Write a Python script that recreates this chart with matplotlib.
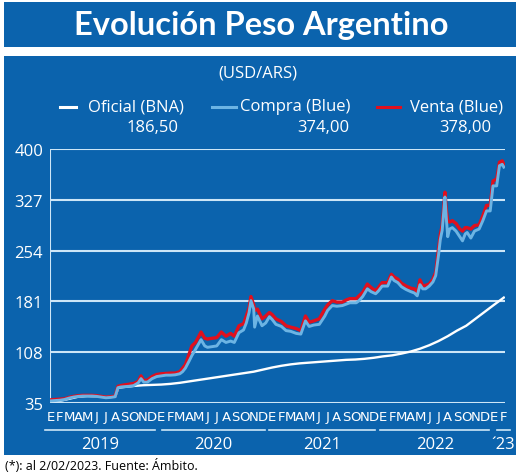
import matplotlib
matplotlib.use("Agg")
import matplotlib.pyplot as plt
from matplotlib.patches import Rectangle
from matplotlib.lines import Line2D

# month index: 0 = start of Jan 2019
months = ["E", "F", "M", "A", "M", "J", "J", "A", "S", "O", "N", "D"] * 4 + ["E", "F"]
years = ["2019", "2020", "2021", "2022", "´23"]
year_spans = [(-0.6, 11.3), (12.1, 23.2), (23.7, 35.1), (35.7, 47.5), (48.3, 49.7)]

t_blue = [0.0, 0.5, 1.0, 1.5, 2.0, 2.5, 3.0, 3.5, 4.0, 4.5, 5.0, 5.5, 6.0, 6.5, 7.0,
          7.3, 7.6, 8.0, 8.5, 9.0, 9.5, 9.8, 10.1, 10.5, 11.0, 11.5, 12.0, 12.5, 13.0,
          13.5, 14.0, 14.3, 14.6, 15.0, 15.3, 15.7, 16.3, 16.7, 17.0, 17.5, 18.0, 18.5,
          19.0, 19.5, 19.9, 20.4, 20.9, 21.2, 21.5, 21.7, 22.0, 22.1, 22.4, 22.9, 23.3,
          23.7, 24.0, 24.4, 25.0, 25.5, 26.0, 26.6, 27.1, 27.6, 28.0, 28.5, 29.1, 29.7,
          30.0, 30.5, 31.0, 31.6, 32.0, 32.4, 33.1, 33.4, 33.8, 34.3, 34.7, 35.2, 35.5,
          35.9, 36.5, 36.9, 37.2, 37.6, 38.0, 38.5, 39.0, 39.4, 39.7, 40.0, 40.3, 40.6,
          41.0, 41.4, 41.7, 42.0, 42.2, 42.4, 42.6, 42.7, 42.85, 43.0, 43.2, 43.5, 43.9,
          44.3, 44.6, 44.9, 45.1, 45.5, 45.9, 46.4, 46.8, 47.2, 47.6, 47.9, 48.3, 48.6,
          48.9, 49.07]
compra = [38, 38.5, 39, 40, 42, 43.5, 44.5, 45, 45, 45, 44.5, 43.5, 42.5, 43, 44,
          57, 58, 58.5, 59, 60, 64, 70, 65, 65, 70, 73, 74, 75, 75,
          75.5, 77, 80, 85, 95, 103, 112, 126, 117, 115, 116, 117, 126,
          122, 124, 122, 136, 140, 150, 165, 182, 170, 144, 160, 146, 150,
          159, 155, 148, 145, 139, 138, 135, 134, 153, 145, 147, 148, 160,
          168, 175, 174, 175, 177, 179, 179, 182, 188, 199, 195, 192, 196,
          203, 203, 216, 211, 208, 202, 198, 195, 193, 189, 205, 199, 199,
          203, 209, 218, 247, 270, 283, 315, 331, 300, 274, 285, 287, 282,
          274, 268, 278, 280, 272, 282, 285, 297, 311, 311, 347, 347, 376,
          378, 374]
venta = [39.5, 40, 40.5, 41, 43, 44.5, 45.5, 46, 46, 46, 45.5, 44.5, 43.5, 44, 45,
         59, 60, 61, 62, 63, 66, 74, 67, 68, 73, 76, 77, 77.5, 78,
         78, 80, 85, 90, 105, 117, 122, 137, 128, 127, 128, 129, 137,
         131, 135, 131, 146, 149, 160, 172, 188, 176, 168, 170, 156, 160,
         165, 162, 156, 152, 146, 144, 142, 139, 160, 151, 153, 156, 170,
         176, 182, 180, 180, 183, 185, 185, 189, 194, 206, 201, 196, 201,
         208, 208, 220, 216, 213, 207, 203, 200, 199, 194, 212, 203, 204,
         206, 213, 223, 256, 278, 290, 322, 338, 312, 297, 295, 297, 293,
         285, 282, 287, 287, 285, 290, 291, 304, 319, 319, 354, 357, 381,
         383, 378]

t_ofi = [0, 1, 2, 3, 4, 5, 6, 7, 7.35, 8, 9, 10, 11, 12, 13, 14, 15, 16, 17, 18, 19,
         20, 21, 22, 23, 24, 25, 26, 27, 28, 29, 30, 31, 32, 33, 34, 35, 36, 37, 38,
         39, 40, 41, 42, 43, 44, 45, 46, 47, 48, 49.07]
oficial = [37.5, 38, 41, 44, 45, 44.5, 43.5, 44, 57, 58, 59.5, 60.5, 61, 61.5, 62.5,
           64, 66, 68, 70, 72, 74, 76, 78, 80, 83, 86, 88.5, 90.5, 92, 93, 94, 95,
           96, 97, 97.5, 98.5, 100, 102, 103.5, 106, 109, 113, 118, 124, 131, 139,
           146, 156, 166, 176, 186.5]

y_ticks = [35, 108, 181, 254, 327, 400]
legend_names = ["Oficial (BNA)", "Compra (Blue)", "Venta (Blue)"]
legend_values = ["186,50", "374,00", "378,00"]

BG = "#0b63ad"
LIGHT = "#6cb4e4"
RED = "#e0101e"
GRID = "#cde6f7"
W, H = 520, 477

fig = plt.figure(figsize=(W / 100, H / 100), dpi=100)
fig.patch.set_facecolor("white")

def px(x, y):
    # pixel (top-left origin) -> figure fraction
    return x / W, 1 - y / H

# title bar and main panel
fig.patches.append(Rectangle(px(4, 48), 512 / W, 45 / H, transform=fig.transFigure,
                             facecolor=BG, edgecolor="none", zorder=0))
fig.patches.append(Rectangle(px(4, 456), 512 / W, 399 / H, transform=fig.transFigure,
                             facecolor=BG, edgecolor="none", zorder=0))
fig.text(*px(261, 26), "Evolución Peso Argentino", color="white", fontsize=23.5,
         family="Lato", fontweight="bold", ha="center", va="center")
fig.text(*px(258, 74), "(USD/ARS)", color="white", fontsize=12, family="Open Sans",
         ha="center", va="center")

# legend
leg_x = [(60, 76, 88), (212, 236, 240), (377, 400, 410)]
leg_col = ["white", LIGHT, RED]
val_x = [153, 323, 465]
for (x0, x1, xt), c, name, val, xv in zip(leg_x, leg_col, legend_names, legend_values, val_x):
    fig.lines.append(Line2D([x0 / W, x1 / W], [1 - 108 / H] * 2, transform=fig.transFigure,
                            color=c, lw=2.2))
    fig.text(*px(xt, 107), name, color="white", fontsize=12, family="Open Sans",
             ha="left", va="center")
    fig.text(*px(xv, 128), val, color="white", fontsize=12, family="Open Sans",
             ha="center", va="center")

ax = fig.add_axes([50 / W, 1 - 404 / H, 455 / W, 254 / H])
ax.set_zorder(3)
ax.patch.set_alpha(0)
for s in ax.spines.values():
    s.set_visible(False)
ax.axvline(-0.05, color=GRID, lw=1.5, zorder=1)
for yv in y_ticks:
    ax.axhline(yv, color=GRID, lw=1.5, zorder=1)

ax.plot(t_ofi, oficial, color="white", lw=1.7, zorder=3)
ax.plot(t_blue, venta, color=RED, lw=2.4, zorder=4)
ax.plot(t_blue, compra, color=LIGHT, lw=2.1, zorder=5)

ax.set_xlim(-0.05, 49.2)
ax.set_ylim(35, 400)
ax.set_yticks(y_ticks)
ax.set_yticklabels([str(v) for v in y_ticks], color="white", fontsize=12, family="Open Sans")
ax.set_xticks(range(len(months)))
ax.set_xticklabels(months, color="white", fontsize=9.5,
                   family=["Liberation Sans Narrow", "DejaVu Sans"])
ax.tick_params(length=0)
ax.tick_params(axis="y", pad=5)
ax.tick_params(axis="x", pad=5)

# year separators and labels
for (a, b), yr in zip(year_spans, years):
    ax.plot([a, b], [-27 / 254] * 2, transform=ax.get_xaxis_transform(), clip_on=False,
            color=GRID, lw=1.2)
    ax.text((a + b) / 2, -41 / 254, yr, transform=ax.get_xaxis_transform(), color="white",
            fontsize=12, family="Open Sans", ha="center", va="center")

fig.text(*px(5, 466), "(*): al 2/02/2023. Fuente: Ámbito.", color="black", fontsize=9,
         family="Open Sans", ha="left", va="center")

fig.savefig("out.png", dpi=100, facecolor=fig.get_facecolor())
